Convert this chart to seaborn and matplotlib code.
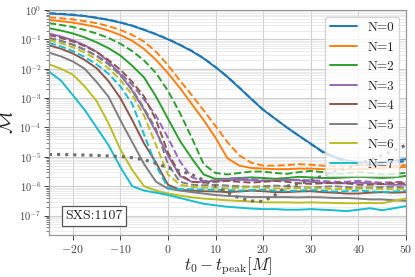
import numpy as np
import pandas as pd
import matplotlib
matplotlib.use("Agg")
import matplotlib.pyplot as plt
import seaborn as sns
from matplotlib.ticker import LogLocator, NullFormatter, FixedLocator

# ---------------------------------------------------------------
# data: log10 of the mismatch
# ---------------------------------------------------------------
t0 = np.arange(-25, 50.1, 2.5)

# solid lines (one per overtone number N)
solid_N0 = [-0.12, -0.14, -0.17, -0.21, -0.27, -0.34, -0.43, -0.54, -0.68, -0.83, -1.0, -1.19, -1.4, -1.65, -1.95, -2.28,
            -2.65, -3.03, -3.4, -3.7, -4.0, -4.28, -4.55, -4.82, -5.0, -5.12, -5.18, -5.2, -5.18, -5.13, -5.08]
solid_N1 = [-0.34, -0.38, -0.43, -0.5, -0.58, -0.7, -0.85, -1.05, -1.33, -1.7, -2.15, -2.65, -3.2, -3.75, -4.35, -5.05,
            -5.3, -5.38, -5.4, -5.42, -5.42, -5.4, -5.4, -5.42, -5.42, -5.43, -5.42, -5.4, -5.38, -5.36, -5.35]
solid_N2 = [-0.62, -0.7, -0.8, -0.93, -1.1, -1.3, -1.55, -1.9, -2.3, -2.95, -3.7, -4.45, -5.05, -5.6, -5.75, -5.75,
            -5.72, -5.7, -5.72, -5.75, -5.72, -5.68, -5.7, -5.72, -5.72, -5.7, -5.68, -5.7, -5.72, -5.7, -5.65]
solid_N3 = [-0.8, -0.9, -1.03, -1.2, -1.42, -1.75, -2.2, -2.75, -3.4, -4.15, -4.95, -5.65, -5.85, -5.85, -5.82, -5.8,
            -5.78, -5.8, -5.82, -5.8, -5.78, -5.8, -5.85, -5.88, -5.9, -5.9, -5.88, -5.9, -5.93, -5.95, -5.95]
solid_N4 = [-1.2, -1.32, -1.48, -1.7, -1.98, -2.42, -3.0, -3.75, -4.55, -5.2, -5.95, -6.12, -6.15, -6.17, -6.18, -6.2,
            -6.18, -6.15, -6.17, -6.2, -6.2, -6.18, -6.17, -6.2, -6.22, -6.25, -6.25, -6.22, -6.2, -6.22, -6.2]
solid_N5 = [-1.45, -1.58, -1.75, -2.0, -2.45, -2.95, -3.75, -4.5, -5.25, -5.85, -6.08, -6.15, -6.2, -6.25, -6.3, -6.33,
            -6.35, -6.37, -6.37, -6.37, -6.37, -6.38, -6.37, -6.38, -6.4, -6.4, -6.42, -6.45, -6.45, -6.48, -6.5]
solid_N6 = [-1.85, -2.0, -2.2, -2.6, -3.1, -3.85, -4.75, -5.45, -6.0, -6.15, -6.25, -6.32, -6.38, -6.42, -6.45, -6.48,
            -6.5, -6.52, -6.55, -6.55, -6.55, -6.56, -6.55, -6.56, -6.57, -6.58, -6.58, -6.57, -6.58, -6.5, -6.42]
solid_N7 = [-2.1, -2.4, -2.9, -3.4, -4.0, -4.6, -5.35, -6.0, -6.15, -6.22, -6.3, -6.4, -6.5, -6.6, -6.65, -6.7,
            -6.73, -6.76, -6.78, -6.78, -6.8, -6.8, -6.78, -6.8, -6.82, -6.85, -6.8, -6.75, -6.82, -6.75, -6.68]

# dashed lines (second fit, same N)
dashed_N0 = [-0.11, -0.13, -0.16, -0.2, -0.26, -0.33, -0.42, -0.53, -0.67, -0.82, -0.99, -1.18, -1.39, -1.64, -1.94, -2.27,
             -2.64, -3.02, -3.39, -3.7, -4.0, -4.28, -4.56, -4.84, -5.02, -5.18, -5.25, -5.28, -5.25, -5.2, -5.15]
dashed_N1 = [-0.25, -0.28, -0.32, -0.38, -0.45, -0.55, -0.68, -0.85, -1.08, -1.42, -1.88, -2.4, -2.9, -3.42, -3.95, -4.5,
             -4.95, -5.2, -5.3, -5.3, -5.28, -5.25, -5.27, -5.3, -5.32, -5.3, -5.28, -5.3, -5.32, -5.3, -5.28]
dashed_N2 = [-0.45, -0.51, -0.58, -0.68, -0.8, -0.95, -1.15, -1.4, -1.72, -2.15, -2.75, -3.5, -4.35, -5.25, -5.55, -5.6,
             -5.55, -5.5, -5.5, -5.55, -5.58, -5.52, -5.48, -5.52, -5.58, -5.56, -5.52, -5.55, -5.6, -5.58, -5.55]
dashed_N3 = [-0.95, -1.05, -1.18, -1.35, -1.55, -1.82, -2.15, -2.55, -3.05, -3.6, -4.35, -5.15, -5.7, -5.82, -5.8, -5.75,
             -5.72, -5.75, -5.8, -5.82, -5.8, -5.78, -5.8, -5.82, -5.85, -5.85, -5.82, -5.85, -5.88, -5.86, -5.85]
dashed_N4 = [-0.85, -0.95, -1.07, -1.23, -1.43, -1.7, -2.03, -2.45, -2.95, -3.75, -4.85, -5.6, -5.85, -5.88, -5.85, -5.82,
             -5.85, -5.88, -5.85, -5.82, -5.85, -5.9, -5.92, -5.9, -5.88, -5.9, -5.95, -5.95, -5.92, -5.9, -5.9]
dashed_N5 = [-0.95, -1.05, -1.18, -1.35, -1.57, -1.85, -2.22, -2.7, -3.35, -4.05, -5.25, -5.85, -5.95, -5.97, -5.95, -5.98,
             -6.0, -6.02, -6.0, -5.98, -6.0, -6.03, -6.05, -6.02, -6.0, -6.03, -6.05, -6.05, -6.03, -6.02, -6.05]
dashed_N6 = [-1.02, -1.13, -1.27, -1.45, -1.68, -1.98, -2.38, -2.9, -3.6, -4.6, -5.6, -5.95, -6.02, -6.05, -6.05, -6.07,
             -6.05, -6.03, -6.05, -6.07, -6.08, -6.06, -6.05, -6.07, -6.1, -6.1, -6.08, -6.07, -6.1, -6.1, -6.08]
dashed_N7 = [-1.12, -1.24, -1.4, -1.6, -1.85, -2.17, -2.6, -3.2, -4.25, -5.3, -6.05, -6.1, -6.1, -6.12, -6.12, -6.13,
             -6.15, -6.13, -6.12, -6.15, -6.17, -6.15, -6.13, -6.15, -6.18, -6.17, -6.15, -6.17, -6.2, -6.18, -6.15]

# dotted grey reference curve
dotted_ref = [-4.92, -4.92, -4.93, -4.94, -4.95, -4.97, -4.99, -5.03, -5.1, -5.22, -5.38, -5.48, -5.6, -5.8, -6.0, -6.22,
              -6.4, -6.5, -6.52, -6.3, -6.0, -5.92, -5.8, -5.65, -5.5, -5.38, -5.25, -5.1, -4.95, -4.78, -4.6]

solid_curves = [solid_N0, solid_N1, solid_N2, solid_N3, solid_N4, solid_N5, solid_N6, solid_N7]
dashed_curves = [dashed_N0, dashed_N1, dashed_N2, dashed_N3, dashed_N4, dashed_N5, dashed_N6, dashed_N7]
colors = ['#1f77b4', '#ff7f0e', '#2ca02c', '#9467bd', '#8c564b', '#7f7f7f', '#bcbd22', '#17becf']
y_major = [10.0 ** k for k in range(-7, 1)]

# ---------------------------------------------------------------
# style
# ---------------------------------------------------------------
sns.set_style("whitegrid")
plt.rcParams['font.family'] = 'serif'
plt.rcParams['font.serif'] = ['cmr10']
plt.rcParams['mathtext.fontset'] = 'cm'
plt.rcParams['axes.formatter.use_mathtext'] = True
plt.rcParams['axes.unicode_minus'] = True

fig, ax = plt.subplots(figsize=(4.15, 2.77), dpi=100)
fig.subplots_adjust(left=0.118, right=0.978, top=0.964, bottom=0.152)

for n in range(8):
    sns.lineplot(x=t0, y=10 ** np.array(solid_curves[n]), ax=ax, color=colors[n],
                 lw=1.4, label=f'N={n}')
for n in range(8):
    sns.lineplot(x=t0, y=10 ** np.array(dashed_curves[n]), ax=ax, color=colors[n],
                 lw=1.4, linestyle='--')
sns.lineplot(x=t0, y=10 ** np.array(dotted_ref), ax=ax, color='#6e6e6e',
             lw=2.2, linestyle=':')

ax.set_yscale('log')
ax.set_xlim(-25, 50)
ax.set_ylim(2.2e-8, 1)
ax.yaxis.set_major_locator(FixedLocator(y_major))
ax.yaxis.set_minor_locator(LogLocator(base=10, subs=np.arange(2, 10), numticks=12))
ax.yaxis.set_minor_formatter(NullFormatter())
ax.set_xticks([-20, -10, 0, 10, 20, 30, 40, 50])

ax.grid(True, which='major', color='#cfcfcf', lw=0.8)
ax.grid(True, which='minor', axis='y', color='#e3e3e3', lw=0.5)
ax.tick_params(axis='both', which='both', direction='out', colors='#444444',
               left=True, bottom=True, pad=2)
ax.tick_params(axis='x', labelsize=8.5)
ax.tick_params(axis='y', labelsize=7.5)
ax.tick_params(axis='both', which='major', length=3.5, width=0.7)
ax.tick_params(axis='y', which='minor', length=2, width=0.5)
for sp in ax.spines.values():
    sp.set_color('#999999')
    sp.set_linewidth(0.9)

ax.set_xlabel(r'$t_0 - t_{\rm peak} [M]$', fontsize=12)
ax.set_ylabel(r'$\mathcal{M}$', fontsize=13.5)
ax.xaxis.set_label_coords(0.5, -0.092)
ax.yaxis.set_label_coords(-0.09, 0.5)

ax.legend(loc='upper right', fontsize=9.5, labelspacing=0.55, handlelength=2.0,
          framealpha=0.8, borderaxespad=0.5)

ax.text(0.127, 0.084, 'SXS:1107', transform=ax.transAxes, ha='center', va='center',
        fontsize=10, bbox=dict(boxstyle='square,pad=0.25', facecolor='white', edgecolor='#555555', lw=0.9))

plt.savefig('out.png', dpi=100)
plt.close()
